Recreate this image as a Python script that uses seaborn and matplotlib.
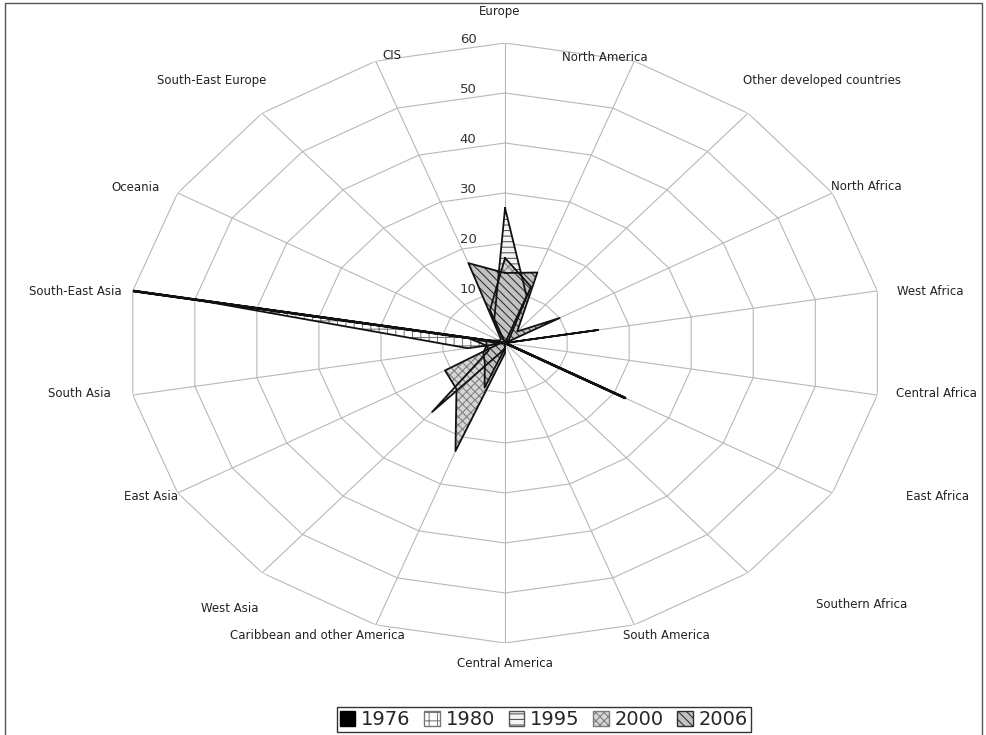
import matplotlib
matplotlib.use("Agg")
import matplotlib.pyplot as plt
import numpy as np
import seaborn as sns
from matplotlib.patches import Patch, Rectangle

# destination regions, clockwise from the top
regions = ["Europe", "North America", "Other developed countries", "North Africa",
           "West Africa", "Central Africa", "East Africa", "Southern Africa",
           "South America", "Central America", "Caribbean and other America",
           "West Asia", "East Asia", "South Asia", "South-East Asia", "Oceania",
           "South-East Europe", "CIS"]
years = ["1976", "1980", "1995", "2000", "2006"]

share_1976 = [0, 0, 0, 0, 0, 0, 22, 0, 0, 0, 0, 0, 0, 0, 60, 0, 0, 0]
share_1980 = [0, 0, 0, 0, 15, 0, 0, 0, 0, 0, 0, 0, 0, 6, 50, 0, 0, 0]
share_1995 = [27, 10, 0, 0, 0, 0, 0, 0, 0, 1, 2, 18, 3, 3, 6, 0, 0, 5]
share_2000 = [17, 12, 1, 0, 0, 0, 0, 0, 0, 2, 23, 12, 11, 1, 4, 0, 0, 7]
share_2006 = [14, 15, 3, 10, 0, 0, 0, 0, 0, 1, 9.5, 5, 4, 3, 3, 1, 1, 17]
radial_ticks = [10, 20, 30, 40, 50, 60]

series = [share_1976, share_1980, share_1995, share_2000, share_2006]

# fill styles per year: (face, hatch, hatch colour)
styles = [("black", None, "black"),
          ("white", "++", "#777777"),
          ("#f4f4f4", "---", "#555555"),
          ("#d6d6d6", "xxxx", "#7d7d7d"),
          ("#c2c2c2", "\\\\\\\\", "#2e2e2e")]

# where each region label sits relative to its outer vertex (pixels)
label_offsets = [(-5, 31), (-30, 4), (74, 33), (34, 6), (53, -1), (59, 2),
                 (105, -4), (114, -32), (32, -11), (0, -21), (-58, -11),
                 (-32, -36), (-27, -4), (-53, 2), (-57, -1), (-42, 5),
                 (-50, 33), (16, 6)]

sns.set_theme(style="white")
plt.rcParams["font.family"] = ["DejaVu Sans"]
plt.rcParams["hatch.linewidth"] = 0.75

fig = plt.figure(figsize=(9.87, 7.35), dpi=100)
ax = fig.add_axes([0.1287, 0.1252, 0.766, 0.8163], projection="polar")
ax.set_theta_zero_location("N")
ax.set_theta_direction(-1)
ax.set_aspect("auto")
ax.set_ylim(0, 60)
ax.grid(False)
ax.set_xticks([])
ax.set_yticks([])
ax.spines["polar"].set_visible(False)
ax.patch.set_alpha(0)

theta = np.deg2rad(np.arange(len(regions)) * 360 / len(regions))
theta_c = np.append(theta, theta[0])

# polygon web
grid_kw = dict(color="#b8b8b8", lw=0.8, zorder=0)
for r in radial_ticks:
    ax.plot(theta_c, np.full(len(theta_c), r), **grid_kw)
for t in theta:
    ax.plot([t, t], [0, 60], **grid_kw)

for i, (vals, (face, hatch, hcol)) in enumerate(zip(series, styles)):
    v = np.append(vals, vals[0])
    ax.fill(theta_c, v, facecolor=face, hatch=hatch, edgecolor=hcol, lw=0, zorder=2)
    ax.plot(theta_c, v, color="#111111", lw=1.8 if i == 0 else 1.3, zorder=3)

for name, t, (dx, dy) in zip(regions, theta, label_offsets):
    ax.annotate(name, xy=(t, 60), xytext=(dx, dy), textcoords="offset pixels",
                ha="center", va="center", fontsize=8.5, color="#222222",
                annotation_clip=False)

for r in radial_ticks:
    ax.annotate(str(r), xy=(0, r), xytext=(-37, 3), textcoords="offset pixels",
                ha="center", va="center", fontsize=9.5, color="#333333",
                annotation_clip=False)

handles = [Patch(facecolor=face, hatch=hatch, edgecolor=hcol if hatch else "black")
           for face, hatch, hcol in styles]
fig.legend(handles, years, loc="upper center", bbox_to_anchor=(0.551, 0.038),
           ncol=5, fontsize=14, frameon=True, fancybox=False, edgecolor="black",
           handlelength=0.8, handleheight=0.8, handletextpad=0.3,
           columnspacing=0.7, borderpad=0.15, borderaxespad=0)

fig.patches.append(Rectangle((0.005, -0.02), 0.99, 1.016, transform=fig.transFigure,
                             fill=False, edgecolor="#555555", lw=1.0))

fig.savefig("out.png", dpi=100, facecolor="white")
